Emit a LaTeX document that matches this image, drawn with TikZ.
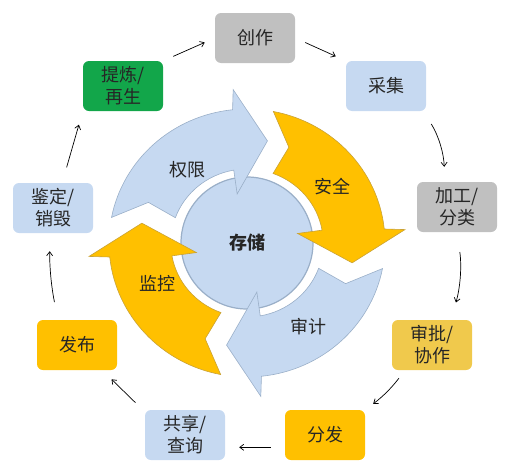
\documentclass[tikz,border=0pt]{standalone}
\usepackage{fontspec}
\usetikzlibrary{arrows.meta,calc}
\newfontfamily\cjk{Noto Sans CJK SC}
\definecolor{ink}{HTML}{262626}
\definecolor{sky}{HTML}{C6D9F1}
\definecolor{skyedge}{HTML}{9AAFC8}
\definecolor{amber}{HTML}{FFC000}
\definecolor{amberedge}{HTML}{C9A237}
\definecolor{honey}{HTML}{F0C94C}
\definecolor{stone}{HTML}{C0C0C0}
\definecolor{leaf}{HTML}{12A64A}
\tikzset{
  every picture/.style={x=1pt, y=1pt, text=ink, font=\cjk\fontsize{18}{22}\selectfont},
  stage/.style={rounded corners=6pt, minimum width=80pt, minimum height=50pt, inner sep=2pt, align=center},
  hub/.style={circle, fill=sky, draw=skyedge, line width=1.2pt, minimum size=132pt, font=\cjk\bfseries\fontsize{18}{22}\selectfont},
  tag/.style={inner sep=0pt},
  link/.style={-{Straight Barb[length=4pt,width=6pt]}, line width=0.7pt, draw=black},
}
% one curved arrow of the ring, tail at angle #1
\newcommand{\cyclearrow}[3]{%
  \filldraw[fill=#2, draw=#3, line width=0.6pt]
    (#1:134) arc[start angle=#1, end angle=#1-73, radius=134]
    -- (#1-74:154) -- (#1-90:104) -- (#1-68:50) -- (#1-69:74)
    arc[start angle=#1-69, end angle=#1-9, radius=74]
    -- (#1-12:104) -- cycle;}

\begin{document}
\begin{tikzpicture}
\useasboundingbox (0,0) rectangle (516,-474);
% centre and ring
\node[hub] (store) at (247,-243) {存储};
\begin{scope}[shift={(247,-243)}, xscale=1.03]
  \cyclearrow{169}{sky}{skyedge}
  \cyclearrow{79}{amber}{amberedge}
  \cyclearrow{-11}{sky}{skyedge}
  \cyclearrow{259}{amber}{amberedge}
\end{scope}
\node[tag] (perm) at (187,-170) {权限};
\node[tag] (safe) at (332,-187) {安全};
\node[tag] (audit) at (308,-327) {审计};
\node[tag] (watch) at (157,-284) {监控};
% life cycle stages
\node[stage, fill=stone] (cz) at (255,-38) {创作};
\node[stage, fill=sky] (cj) at (386,-86) {采集};
\node[stage, fill=stone] (jg) at (457,-207) {加工/\\分类};
\node[stage, fill=honey] (sp) at (432,-345) {审批/\\协作};
\node[stage, fill=amber] (ff) at (325,-435) {分发};
\node[stage, fill=sky] (gx) at (185,-435) {共享/\\查询};
\node[stage, fill=amber] (fb) at (77,-345) {发布};
\node[stage, fill=sky] (jd) at (53,-208) {鉴定/\\销毁};
\node[stage, fill=leaf] (tl) at (123,-86) {提炼/\\再生};
% steps
\draw[link, shorten <=16pt, shorten >=14pt] (jd.70) -- (tl.south west);
\draw[link, shorten <=11pt, shorten >=11pt] (tl.north east) -- (cz.west);
\draw[link, shorten <=11pt, shorten >=11pt] (cz.east) -- (cj.north west);
\draw[link, shorten <=15pt, shorten >=15pt] (cj.-34) to[bend left=15] (jg.116);
\draw[link, shorten <=20pt, shorten >=18pt] (jg.south) to[bend left=12] (sp.53);
\draw[link, shorten <=10pt, shorten >=10pt] (sp.223) to[bend left=8] (ff.north east);
\draw[link, shorten <=14pt, shorten >=14pt] (ff.197) -- (gx.-17);
\draw[link, shorten <=13pt, shorten >=13pt] (gx.150) -- (fb.-45);
\draw[link, shorten <=18pt, shorten >=18pt] (fb.127) to[bend left=6] (jd.263);
\end{tikzpicture}
\end{document}
